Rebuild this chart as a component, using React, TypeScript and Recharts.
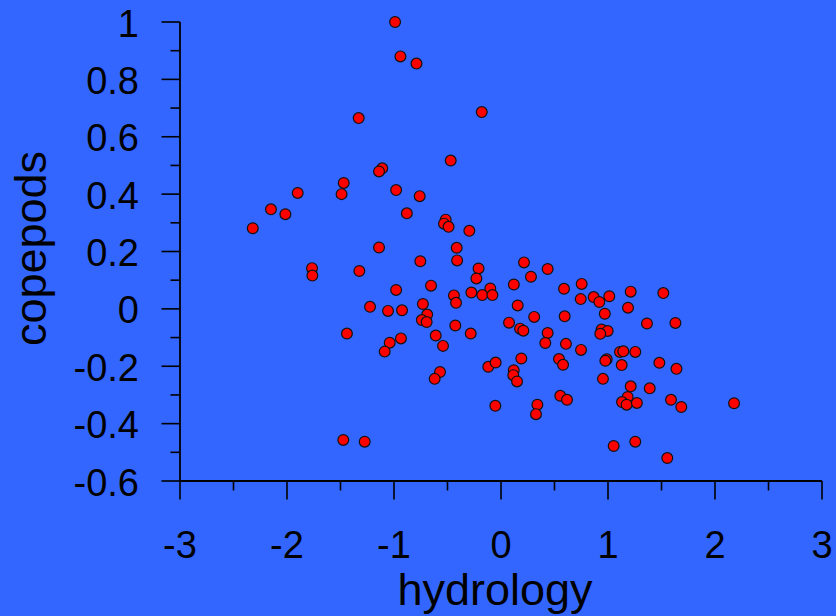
import React from 'react';
import { ScatterChart, Scatter, XAxis, YAxis, Label } from 'recharts';

// hydrology index per sample
const hydrology = [
  -0.99, -0.94, -0.79, -1.33, -0.18, -0.47, -1.11, -1.14, -1.47, -1.49,
  -1.9, -0.98, -0.76, -2.15, -2.015, -2.32, -0.88, -0.517, -0.533, -0.49,
  -0.296, -1.14, -0.414, -0.754, -0.41, -1.766, -1.763, -1.324, -0.21, -0.23,
  -0.654, -0.98, -0.44, -0.42, -0.277, -1.224, -1.056, -0.925, -0.73, -0.69,
  -0.74, -0.695, -1.44, -0.427, -0.283, -0.61, -0.935, -1.04, -1.087, -0.542,
  -0.57, -0.62, -1.474, -1.274, 0.215, 0.436, 0.28, -0.1, -0.175, -0.08,
  0.12, 0.589, 0.754, 0.745, 0.866, 0.919, 1.012, 1.212, 1.517, 1.187,
  0.156, 0.075, 0.31, 0.595, 0.97, 1.364, 1.63, 0.178, 0.209, 0.436,
  0.414, 0.607, 0.748, 0.94, 0.997, 0.928, 1.112, 1.143, 1.255, 0.988,
  0.975, 1.128, 1.48, 1.64, 0.19, 0.542, 0.58, -0.119, -0.05, 0.119,
  0.115, 0.15, 0.953, 1.212, 1.39, 1.184, 1.131, 1.174, 1.27, 0.554,
  0.617, 1.589, 1.685, -0.053, 0.34, 0.327, 1.053, 1.255, 1.554, 2.178,
];

// copepod index per sample
const copepods = [
  1.0, 0.88, 0.855, 0.665, 0.686, 0.517, 0.49, 0.479, 0.439, 0.4,
  0.404, 0.414, 0.393, 0.347, 0.33, 0.281, 0.333, 0.311, 0.297, 0.286,
  0.272, 0.214, 0.213, 0.166, 0.169, 0.142, 0.116, 0.132, 0.141, 0.106,
  0.081, 0.066, 0.047, 0.021, 0.057, 0.007, -0.007, -0.005, 0.017, -0.02,
  -0.039, -0.046, -0.086, -0.058, -0.086, -0.093, -0.103, -0.118, -0.149, -0.129,
  -0.22, -0.244, -0.457, -0.463, 0.162, 0.139, 0.112, 0.071, 0.048, 0.048,
  0.085, 0.07, 0.087, 0.034, 0.041, 0.024, 0.044, 0.06, 0.055, 0.004,
  0.012, -0.048, -0.028, -0.026, -0.017, -0.051, -0.049, -0.069, -0.076, -0.084,
  -0.119, -0.122, -0.143, -0.072, -0.077, -0.087, -0.15, -0.148, -0.15, -0.176,
  -0.181, -0.196, -0.188, -0.209, -0.173, -0.175, -0.195, -0.202, -0.187, -0.214,
  -0.231, -0.253, -0.244, -0.27, -0.277, -0.307, -0.325, -0.334, -0.328, -0.303,
  -0.317, -0.317, -0.342, -0.338, -0.334, -0.367, -0.478, -0.463, -0.52, -0.329,
];

const xTicks = [-3, -2.5, -2, -1.5, -1, -0.5, 0, 0.5, 1, 1.5, 2, 2.5, 3];
const yTicks = [-0.6, -0.5, -0.4, -0.3, -0.2, -0.1, 0, 0.1, 0.2, 0.3, 0.4, 0.5, 0.6, 0.7, 0.8, 0.9, 1];

const points = hydrology.map((h, i) => ({ x: h, y: copepods[i] }));

const FONT = '"Liberation Sans", Arial, sans-serif';
const BG = '#3366FF';

// integers get a long tick and a label, halves only a short tick
const XTick = ({ x, y, payload }: any) => {
  const major = Number.isInteger(payload.value);
  return (
    <g>
      <line x1={x} x2={x} y1={y} y2={y + (major ? 18.5 : 9.5)} stroke="#000" strokeWidth={1.6} />
      {major && (
        <text x={x} y={y + 77} textAnchor="middle" fontSize={38} fontFamily={FONT} fill="#000">
          {payload.value}
        </text>
      )}
    </g>
  );
};

// every 0.2 gets a long tick and a label
const YTick = ({ x, y, payload }: any) => {
  const major = Math.abs(Math.round(payload.value * 10)) % 2 === 0;
  return (
    <g>
      <line x1={x} x2={x - (major ? 18.5 : 9.5)} y1={y} y2={y} stroke="#000" strokeWidth={1.6} />
      {major && (
        <text x={x - 41} y={y + 14.5} textAnchor="end" fontSize={38} fontFamily={FONT} fill="#000">
          {Number(payload.value.toFixed(1))}
        </text>
      )}
    </g>
  );
};

const Dot = ({ cx, cy }: any) => (
  <circle cx={cx} cy={cy} r={5.4} fill="#FF0000" stroke="#111" strokeWidth={1.2} />
);

export default function App() {
  return (
    <div style={{ position: 'absolute', left: 0, top: 0, width: 836, height: 616, background: BG }}>
      <ScatterChart width={836} height={616} margin={{ top: 22, right: 14, left: 0, bottom: 0 }}>
        <XAxis
          type="number"
          dataKey="x"
          domain={[-3, 3]}
          ticks={xTicks}
          interval={0}
          tickSize={0}
          tickMargin={0}
          tickLine={false}
          tick={<XTick />}
          height={135}
          axisLine={{ stroke: '#000', strokeWidth: 1.8 }}
        >
          <Label
            content={({ viewBox }: any) => (
              <text
                x={viewBox.x + viewBox.width / 2 - 6}
                y={viewBox.y + 124}
                textAnchor="middle"
                fontSize={45}
                fontFamily={FONT}
                fill="#000"
              >
                hydrology
              </text>
            )}
          />
        </XAxis>
        <YAxis
          type="number"
          dataKey="y"
          domain={[-0.6, 1]}
          ticks={yTicks}
          interval={0}
          tickSize={0}
          tickMargin={0}
          tickLine={false}
          tick={<YTick />}
          width={180}
          axisLine={{ stroke: '#000', strokeWidth: 1.8 }}
        >
          <Label
            content={({ viewBox }: any) => {
              const lx = viewBox.x + 46;
              const ly = viewBox.y + viewBox.height / 2 - 3;
              return (
                <text
                  x={lx}
                  y={ly}
                  transform={`rotate(-90, ${lx}, ${ly})`}
                  textAnchor="middle"
                  fontSize={45}
                  fontFamily={FONT}
                  fill="#000"
                >
                  copepods
                </text>
              );
            }}
          />
        </YAxis>
        <Scatter data={points} shape={<Dot />} isAnimationActive={false} />
      </ScatterChart>
    </div>
  );
}
